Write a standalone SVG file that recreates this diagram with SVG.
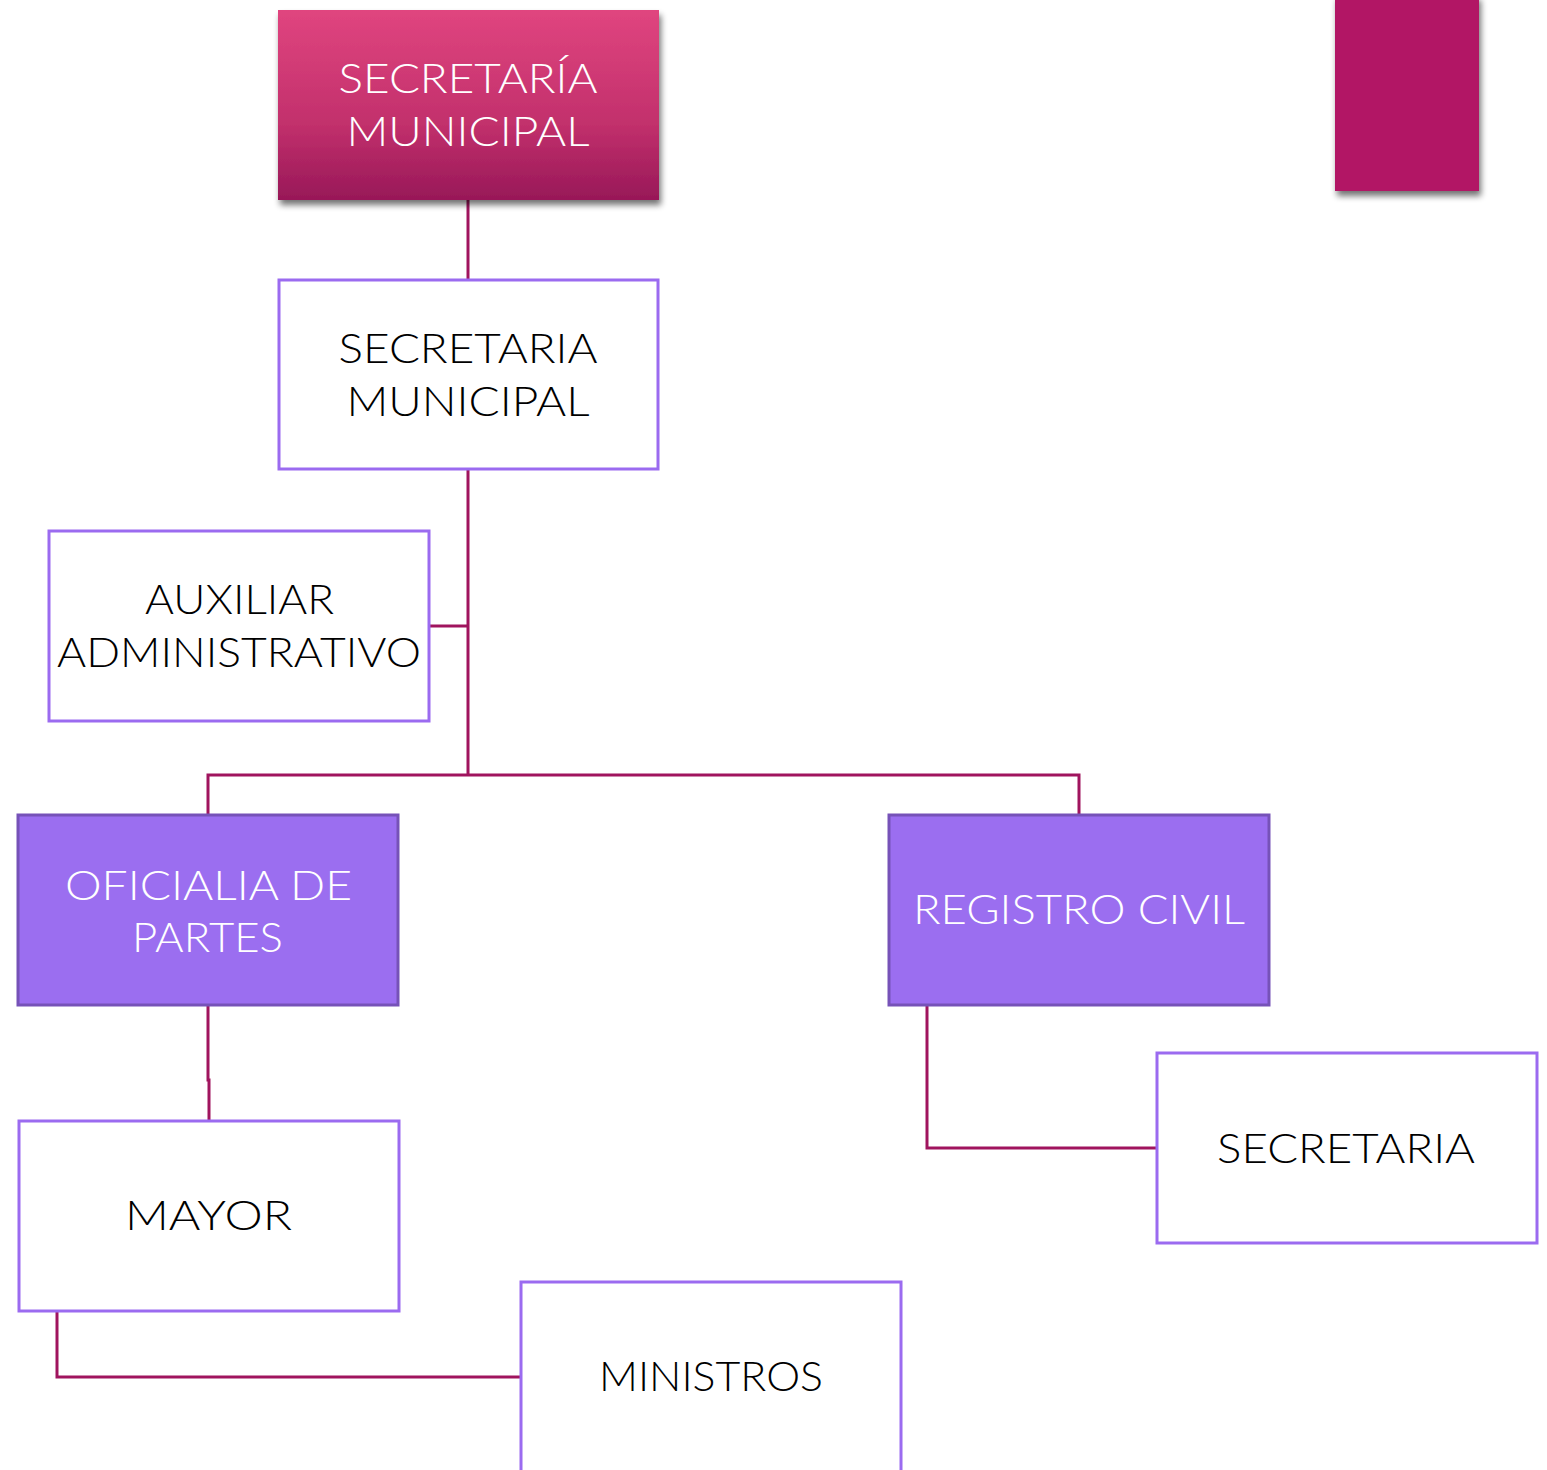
<svg xmlns="http://www.w3.org/2000/svg" width="1547" height="1470" viewBox="0 0 1547 1470">
  <defs>
    <linearGradient id="pinkGrad" x1="0" y1="0" x2="0" y2="1">
      <stop offset="0" stop-color="#e0457f"/>
      <stop offset="0.6" stop-color="#c2306c"/>
      <stop offset="1" stop-color="#981858"/>
    </linearGradient>
    <filter id="shadow" x="-10%" y="-10%" width="125%" height="130%">
      <feGaussianBlur in="SourceAlpha" stdDeviation="3"/>
      <feOffset dx="2" dy="5" result="b"/>
      <feComponentTransfer><feFuncA type="linear" slope="0.55"/></feComponentTransfer>
      <feMerge><feMergeNode/><feMergeNode in="SourceGraphic"/></feMerge>
    </filter>
    <style>
      .txt { font-family: "Lato", "Open Sans", "Liberation Sans", sans-serif; font-size: 42px; font-weight: 300; text-anchor: middle; }
      .dark { fill: #000000; }
      .light { fill: #ffffff; }
      .white-box { fill: #ffffff; stroke: #9b6bf0; stroke-width: 3; }
      .purple-box { fill: #9b6ef0; stroke: #7652b8; stroke-width: 3; }
      .conn { fill: none; stroke: #a0145e; stroke-width: 3; }
    </style>
  </defs>
  <rect width="1547" height="1470" fill="#ffffff"/>

  <g id="connectors">
    <path class="conn" d="M468,200 V280"/>
    <path class="conn" d="M468,469 V775"/>
    <path class="conn" d="M429,626 H468"/>
    <path class="conn" d="M208,815 V775 H1079 V815"/>
    <path class="conn" d="M208,1005 V1080 H209 V1121"/>
    <path class="conn" d="M57,1311 V1377 H521"/>
    <path class="conn" d="M927,1005 V1148 H1157"/>
  </g>

  <g id="deco">
    <rect x="1335" y="-5" width="144" height="196" fill="#b21465" filter="url(#shadow)"/>
  </g>

  <g id="n-secretaria-municipal-top">
    <rect x="278" y="10" width="381" height="190" fill="url(#pinkGrad)" filter="url(#shadow)"/>
    <text class="txt light" x="468" y="93" textLength="259" lengthAdjust="spacingAndGlyphs">SECRETARÍA</text>
    <text class="txt light" x="468" y="146" textLength="243" lengthAdjust="spacingAndGlyphs">MUNICIPAL</text>
  </g>

  <g id="n-secretaria-municipal">
    <rect class="white-box" x="279" y="280" width="379" height="189"/>
    <text class="txt dark" x="468" y="363" textLength="259" lengthAdjust="spacingAndGlyphs">SECRETARIA</text>
    <text class="txt dark" x="468" y="416" textLength="243" lengthAdjust="spacingAndGlyphs">MUNICIPAL</text>
  </g>

  <g id="n-auxiliar">
    <rect class="white-box" x="49" y="531" width="380" height="190"/>
    <text class="txt dark" x="239.5" y="614" textLength="189" lengthAdjust="spacingAndGlyphs">AUXILIAR</text>
    <text class="txt dark" x="239" y="667" textLength="364" lengthAdjust="spacingAndGlyphs">ADMINISTRATIVO</text>
  </g>

  <g id="n-oficialia">
    <rect class="purple-box" x="18" y="815" width="380" height="190"/>
    <text class="txt light" x="208.5" y="900" textLength="287" lengthAdjust="spacingAndGlyphs">OFICIALIA DE</text>
    <text class="txt light" x="207.5" y="952" textLength="151" lengthAdjust="spacingAndGlyphs">PARTES</text>
  </g>

  <g id="n-registro">
    <rect class="purple-box" x="889" y="815" width="380" height="190"/>
    <text class="txt light" x="1079" y="924" textLength="332" lengthAdjust="spacingAndGlyphs">REGISTRO CIVIL</text>
  </g>

  <g id="n-mayor">
    <rect class="white-box" x="19" y="1121" width="380" height="190"/>
    <text class="txt dark" x="208.5" y="1230" textLength="167" lengthAdjust="spacingAndGlyphs">MAYOR</text>
  </g>

  <g id="n-secretaria">
    <rect class="white-box" x="1157" y="1053" width="380" height="190"/>
    <text class="txt dark" x="1346" y="1163" textLength="258" lengthAdjust="spacingAndGlyphs">SECRETARIA</text>
  </g>

  <g id="n-ministros">
    <rect class="white-box" x="521" y="1282" width="380" height="200"/>
    <text class="txt dark" x="711" y="1391" textLength="224" lengthAdjust="spacingAndGlyphs">MINISTROS</text>
  </g>
</svg>
